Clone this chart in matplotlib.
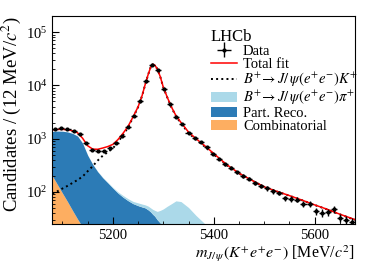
import numpy as np
import matplotlib.pyplot as plt
from matplotlib.ticker import MultipleLocator

plt.rcParams['font.family'] = ['Liberation Serif', 'DejaVu Serif']
plt.rcParams['mathtext.fontset'] = 'stix'

# data, 12 MeV bins from 5080 to 5680
bin_centres = np.arange(5086, 5680, 12)
counts = [1500, 1560, 1520, 1420, 1250, 820, 620, 575, 590, 670,
          830, 1130, 1650, 2650, 5100, 12000, 24500, 19500, 8600, 4400,
          2600, 1870, 1300, 1050, 860, 690, 520, 410, 330, 285,
          235, 200, 178, 150, 130, 117, 103, 96, 77, 74,
          72, 60, 60, 43, 41, 42, 47, 33, 30, 27]

# fit components
m_fit = [5080, 5090, 5100, 5110, 5120, 5130, 5140, 5150, 5160, 5170,
         5180, 5190, 5200, 5210, 5220, 5230, 5240, 5250, 5258, 5264,
         5270, 5275, 5279, 5283, 5288, 5294, 5300, 5308, 5316, 5325,
         5335, 5350, 5365, 5380, 5400, 5425, 5450, 5475, 5500, 5525,
         5550, 5575, 5600, 5625, 5650, 5680]
sig_k = [92, 103, 116, 130, 148, 168, 195, 245, 305, 390,
         480, 560, 660, 860, 1170, 1620, 2500, 3900, 6400, 10300,
         16000, 22000, 24800, 24000, 20500, 14500, 9200, 5900, 3900, 2650,
         1950, 1280, 960, 740, 510, 322, 222, 165, 124, 102,
         85, 70, 57, 47, 38, 30]
sig_pi = [1, 1, 1, 1, 1, 1.5, 1.5, 2, 2, 2.5,
          3, 3.5, 4, 5, 6, 6, 6, 7, 7, 7,
          8, 8, 9, 10, 13, 19, 26, 36, 45, 56,
          57, 44, 31, 23, 14, 6, 2, 1, 0.5, 0.3,
          0.2, 0.1, 0.1, 0.1, 0.1, 0.1]
part_reco = [1170, 1250, 1285, 1275, 1215, 1090, 800, 475, 320, 233,
             180, 145, 116, 94, 79, 68, 60, 55, 52, 50,
             46, 42, 38, 35, 30, 26, 22, 18, 15, 12,
             9, 7, 5, 3.5, 2.5, 1.5, 1.0, 0.7, 0.5, 0.3,
             0.2, 0.1, 0.1, 0.1, 0.1, 0.1]
comb = [200, 138, 95, 66, 45, 31, 22, 15, 10, 7,
        5, 3.4, 2.3, 1.6, 1.1, 0.8, 0.5, 0.4, 0.3, 0.3,
        0.2, 0.2, 0.2, 0.2, 0.2, 0.1, 0.1, 0.1, 0.1, 0.1,
        0.1, 0.1, 0.1, 0.1, 0.1, 0.1, 0.1, 0.1, 0.1, 0.1,
        0.1, 0.1, 0.1, 0.1, 0.1, 0.1]

m_fit = np.array(m_fit)
s1 = np.array(comb)
s2 = s1 + np.array(part_reco)
s3 = s2 + np.array(sig_pi)
total = s3 + np.array(sig_k)

fig = plt.figure(figsize=(3.74, 2.68), dpi=100)
ax = fig.add_axes([0.140, 0.164, 0.809, 0.776])

ax.fill_between(m_fit, 1, s1, color='#fdae61', lw=0, label='Combinatorial')
ax.fill_between(m_fit, s1, s2, color='#2c7bb6', lw=0, label='Part. Reco.')
ax.fill_between(m_fit, s2, s3, color='#abd9e9', lw=0,
                label=r'$B^{+}\!\rightarrow J/\,\psi(e^{+}e^{-})\pi^{+}$')
ax.plot(m_fit, sig_k, ls=':', color='black', lw=1.4,
        label=r'$B^{+}\!\rightarrow J/\,\psi(e^{+}e^{-})K^{+}$')
ax.plot(m_fit, total, color='red', lw=1.1, label='Total fit')
ax.errorbar(bin_centres, counts, xerr=6, yerr=np.sqrt(counts), fmt='o',
            ms=2, color='black', elinewidth=1.0, capsize=0, label='Data')

ax.set_yscale('log')
ax.set_xlim(5080, 5680)
ax.set_ylim(25, 2e5)
ax.xaxis.set_major_locator(MultipleLocator(200))
ax.xaxis.set_minor_locator(MultipleLocator(50))
ax.tick_params(which='both', direction='in', labelsize=10.5)
ax.tick_params(which='major', length=5)
ax.tick_params(which='minor', length=2.5)

ax.set_xlabel(r'$m_{J/\,\psi}(K^{+}e^{+}e^{-})$ [MeV/$c^{2}$]', fontsize=11.5,
              loc='right', labelpad=1)
ax.set_ylabel(r'Candidates / (12 MeV/$c^{2}$)', fontsize=13.5, loc='top')
ax.yaxis.set_label_coords(-0.098, 1.0)

h, l = ax.get_legend_handles_labels()
order = [5, 4, 3, 2, 1, 0]
ax.legend([h[i] for i in order], [l[i] for i in order], title='LHCb',
          title_fontsize=12, fontsize=10.5, frameon=False, loc='upper left',
          bbox_to_anchor=(0.50, 0.975), alignment='left', handlelength=1.8,
          handleheight=0.6, labelspacing=0.0, borderpad=0, handletextpad=0.4)

fig.savefig('out.png', dpi=100)
